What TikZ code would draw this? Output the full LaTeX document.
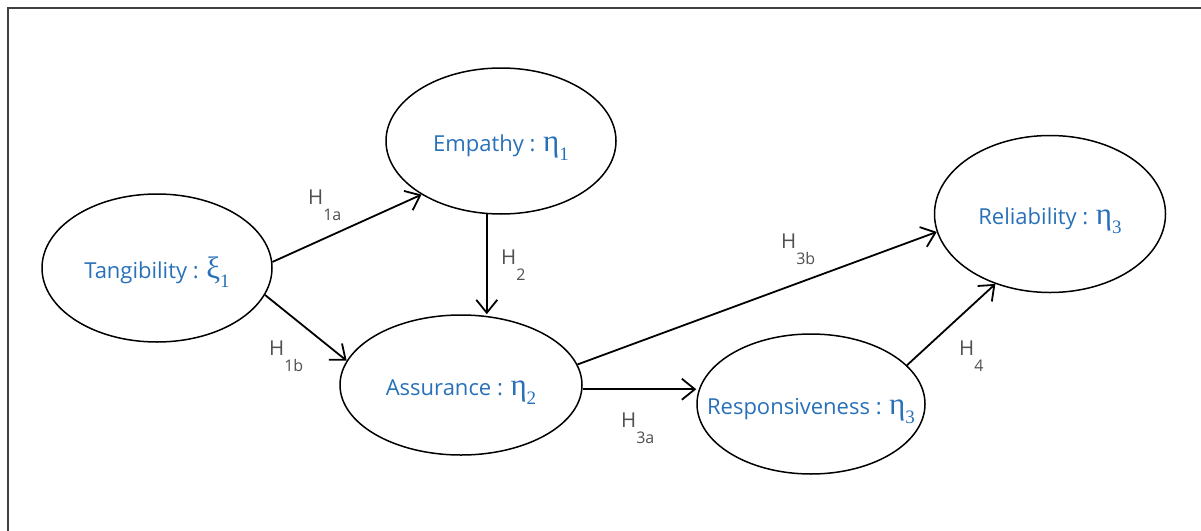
\documentclass[tikz,border=0pt]{standalone}
\usepackage{fontspec}
\setmainfont{Open Sans}
\newfontfamily\grkfont{Liberation Serif}
\usepackage{tikz}
\usetikzlibrary{shapes.geometric, arrows.meta, positioning}

\definecolor{varblue}{RGB}{40,112,184}
\definecolor{hypgray}{RGB}{80,80,80}

% latent variable symbol and hypothesis label
\newcommand{\lv}[2]{{\grkfont\fontsize{31}{31}\selectfont #1\raisebox{-0.3em}{\fontsize{19}{19}\selectfont #2}}}
\newcommand{\hyp}[1]{H\raisebox{-0.8em}{\fontsize{16}{16}\selectfont #1}}

\begin{document}
\begin{tikzpicture}[x=1pt, y=-1pt,
    construct/.style={ellipse, draw, line width=1.5pt, inner sep=0pt, text=varblue, text height=20pt, text depth=0pt, font=\fontsize{22}{26}\selectfont},
    hyparrow/.style={-{Straight Barb[length=13pt, width=21pt]}, line width=1.8pt},
    hyplabel/.style={anchor=base west, inner sep=0pt, text=hypgray, font=\fontsize{20.5}{24}\selectfont}]
    \useasboundingbox (0,0) rectangle (1201,530);

    % Frame
    \draw[line width=1.5pt, black!75] (8,531) -- (8,8) -- (1202,8);

    % Constructs
    \node[construct, minimum width=230, minimum height=148] (tang) at (157,268) {\makebox[0pt]{Tangibility : \lv{ξ}{1}}};
    \node[construct, minimum width=230, minimum height=146] (emp) at (501,141) {\makebox[0pt]{Empathy : \lv{η}{1}}};
    \node[construct, minimum width=242, minimum height=140] (ass) at (461,385) {\makebox[0pt]{Assurance : \lv{η}{2}}};
    \node[construct, minimum width=228, minimum height=140] (resp) at (811,404) {\makebox[0pt]{Responsiveness : \lv{η}{3}}};
    \node[construct, minimum width=231, minimum height=157] (rel) at (1050,214) {\makebox[0pt]{Reliability : \lv{η}{3}}};

    % Hypotheses
    \draw[hyparrow] (tang.3) -- (emp.214);
    \draw[hyparrow] (tang.-14) -- (ass.168);
    \draw[hyparrow] (emp.259) -- (emp.259 |- ass.north);
    \draw[hyparrow] (ass.10) -- (rel.189);
    \draw[hyparrow] (ass.-2) -- (ass.-2 -| resp.west);
    \draw[hyparrow] (resp.22) -- (rel.232);

    % Labels
    \node[hyplabel] (h1a) at (308,204) {\hyp{1a}};
    \node[hyplabel] (h1b) at (269,355) {\hyp{1b}};
    \node[hyplabel] (h2) at (501,264) {\hyp{2}};
    \node[hyplabel] (h3b) at (781,248) {\hyp{3b}};
    \node[hyplabel] (h3a) at (621,427) {\hyp{3a}};
    \node[hyplabel] (h4) at (959,355) {\hyp{4}};

\end{tikzpicture}
\end{document}
